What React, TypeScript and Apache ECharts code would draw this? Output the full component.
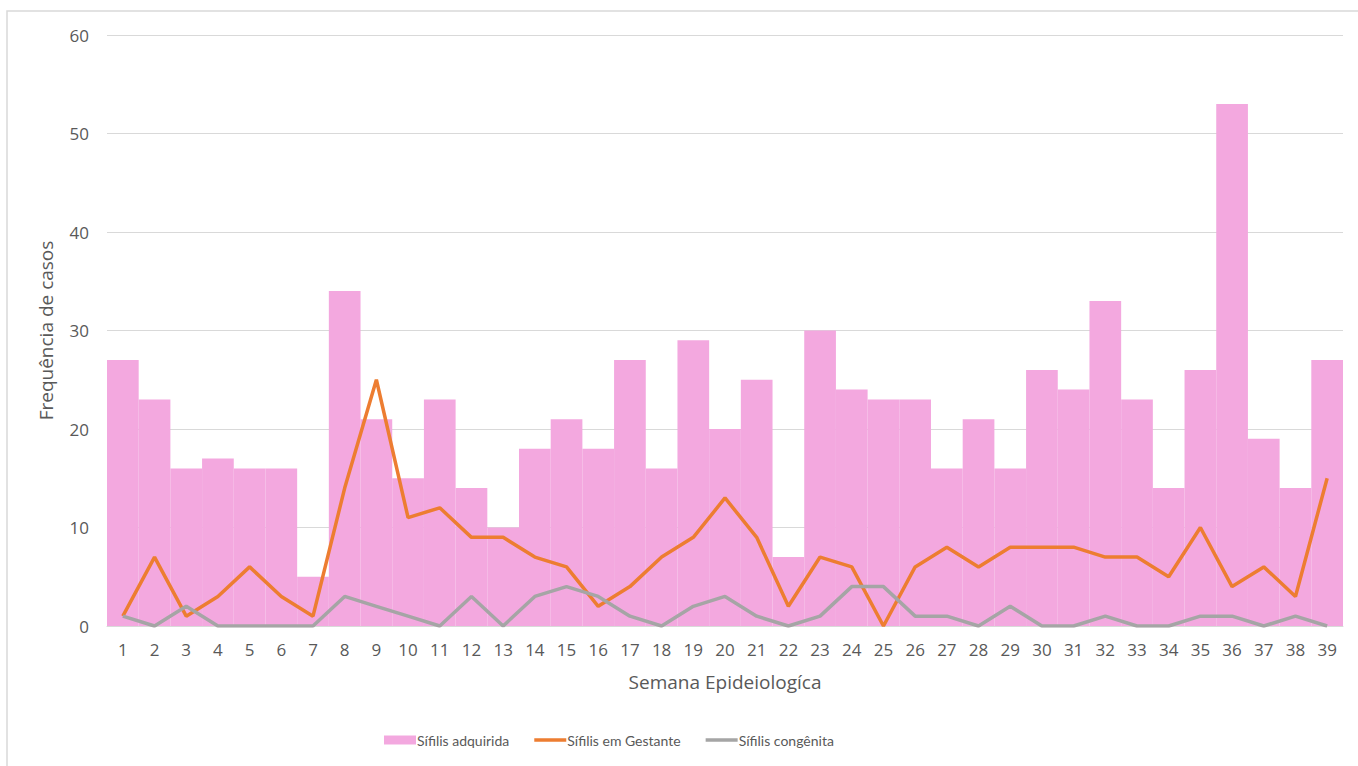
import React, { useEffect, useRef } from "react";
import * as echarts from "echarts";

const weeks: string[] = Array.from({ length: 39 }, (_, i) => String(i + 1));
const adquirida: number[] = [27, 23, 16, 17, 16, 16, 5, 34, 21, 15, 23, 14, 10, 18, 21, 18, 27, 16, 29, 20, 25, 7, 30, 24, 23, 23, 16, 21, 16, 26, 24, 33, 23, 14, 26, 53, 19, 14, 27];
const gestante: number[] = [1, 7, 1, 3, 6, 3, 1, 14, 25, 11, 12, 9, 9, 7, 6, 2, 4, 7, 9, 13, 9, 2, 7, 6, 0, 6, 8, 6, 8, 8, 8, 7, 7, 5, 10, 4, 6, 3, 15];
const congenita: number[] = [1, 0, 2, 0, 0, 0, 0, 3, 2, 1, 0, 3, 0, 3, 4, 3, 1, 0, 2, 3, 1, 0, 1, 4, 4, 1, 1, 0, 2, 0, 0, 1, 0, 0, 1, 1, 0, 1, 0];

const FONT = "'Open Sans', sans-serif";
const LFONT = "Lato, sans-serif";
const TXT = "#595959";
const LINE_ICON = "path://M0,0 L32,0 L32,3.5 L0,3.5 Z";

export default function App() {
  const ref = useRef<HTMLDivElement>(null);
  useEffect(() => {
    document.body.style.margin = "0";
    const chart = echarts.init(ref.current!, undefined, { renderer: "svg" });
    chart.setOption({
      animation: false,
      backgroundColor: "#ffffff",
      textStyle: { fontFamily: FONT },
      graphic: [
        {
          type: "rect",
          shape: { x: 7, y: 11, width: 1400, height: 800 },
          style: { fill: "none", stroke: "#D9D9D9", lineWidth: 1.5 },
          silent: true,
        },
      ],
      grid: { left: 107, right: 15, top: 35, bottom: 140 },
      legend: {
        left: 379,
        top: 728,
        itemWidth: 32,
        itemHeight: 9,
        itemGap: 25,
        textStyle: { color: TXT, fontSize: 14, fontFamily: LFONT, padding: [0, 0, 0, -4] },
        data: [
          { name: "Sífilis adquirida", icon: "rect" },
          { name: "Sífilis em Gestante", icon: LINE_ICON },
          { name: "Sífilis congênita", icon: LINE_ICON },
        ],
      },
      xAxis: {
        type: "category",
        data: weeks,
        name: "Semana Epideiologíca",
        nameLocation: "middle",
        nameGap: 46,
        nameTextStyle: { color: TXT, fontSize: 19, fontFamily: FONT },
        axisLine: { lineStyle: { color: "#D9D9D9", width: 1 } },
        axisTick: { show: false },
        axisLabel: { color: TXT, fontSize: 17, margin: 15, interval: 0, fontFamily: FONT },
      },
      yAxis: {
        type: "value",
        min: 0,
        max: 60,
        interval: 10,
        name: "Frequência de casos",
        nameLocation: "middle",
        nameGap: 52,
        nameTextStyle: { color: TXT, fontSize: 19, fontFamily: FONT },
        axisLine: { show: false },
        axisTick: { show: false },
        axisLabel: { color: TXT, fontSize: 17, margin: 18, fontFamily: FONT },
        splitLine: { lineStyle: { color: "#D9D9D9", width: 1 } },
      },
      series: [
        {
          name: "Sífilis adquirida",
          type: "bar",
          data: adquirida,
          barCategoryGap: "0%",
          itemStyle: { color: "#F3A8DF" },
        },
        {
          name: "Sífilis em Gestante",
          type: "line",
          data: gestante,
          symbol: "none",
          lineStyle: { color: "#ED7D31", width: 3.5 },
          itemStyle: { color: "#ED7D31" },
        },
        {
          name: "Sífilis congênita",
          type: "line",
          data: congenita,
          symbol: "none",
          lineStyle: { color: "#A5A5A5", width: 3.5 },
          itemStyle: { color: "#A5A5A5" },
        },
      ],
    });
    return () => chart.dispose();
  }, []);
  return <div ref={ref} style={{ width: 1358, height: 766 }} />;
}
